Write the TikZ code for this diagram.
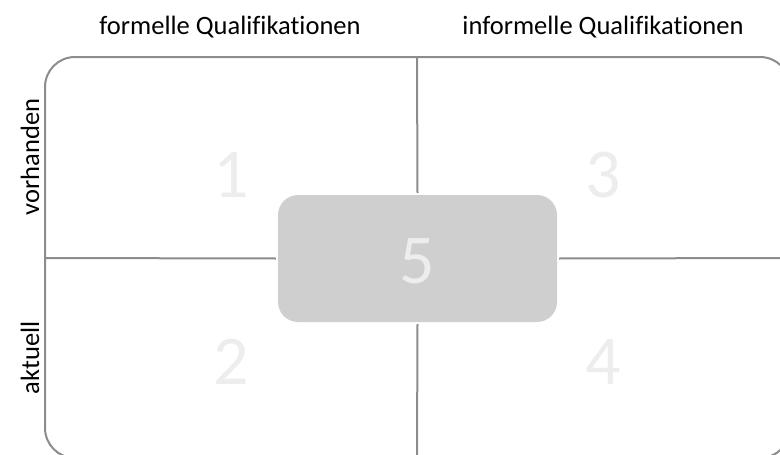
\documentclass[tikz,border=0pt]{standalone}
\usepackage{fontspec}
\setmainfont[RawFeature={-liga;-clig;-dlig}]{Carlito}
\definecolor{frame}{HTML}{8C8C8C}
\definecolor{boxfill}{HTML}{CFCFCF}
\definecolor{numlight}{HTML}{EDEDED}
\begin{document}
\begin{tikzpicture}[x=1pt,y=-1pt,
  gridline/.style={draw=frame,line width=2pt},
  quadnum/.style={text=numlight,font=\fontsize{70}{70}\selectfont,inner sep=0pt},
  header/.style={font=\fontsize{26.5}{26.5}\selectfont,inner sep=0pt},
  sidelabel/.style={font=\fontsize{26.5}{26.5}\selectfont,inner sep=0pt,rotate=90}]
  \useasboundingbox (0,0) rectangle (780,455);
  \clip (0,0) rectangle (780,455);
  % outer frame, running past the right and bottom edges
  \draw[gridline,rounded corners=30pt] (45,57) rectangle (790,458);
  % centre box
  \node[fill=boxfill,rounded corners=20pt,minimum width=279pt,minimum height=127pt,inner sep=0pt] (c) at (417.5,258.5) {};
  \node[quadnum] (n5) at (417.5,261) {5};
  % coordinates where the dividing lines meet the frame
  \coordinate (top) at (417,57);
  \coordinate (bot) at (417,458);
  \coordinate (lft) at (45,258);
  \coordinate (rgt) at (790,258);
  \draw[gridline] (top) -- ([yshift=2pt]c.north);
  \draw[gridline] (bot) -- ([yshift=-2pt]c.south);
  \draw[gridline] (lft) -- ([xshift=-2pt]c.west);
  \draw[gridline] (rgt) -- ([xshift=2pt]c.east);
  % quadrant numbers
  \node[quadnum] (n1) at (231,175) {1};
  \node[quadnum] (n2) at (231,362) {2};
  \node[quadnum] (n3) at (603,175) {3};
  \node[quadnum] (n4) at (603,362) {4};
  % headings
  \node[header] (h1) at (230,27) {formelle Qualifikationen};
  \node[header] (h2) at (603,27) {informelle Qualifikationen};
  \node[sidelabel] (s1) at (30,157) {vorhanden};
  \node[sidelabel] (s2) at (30,358) {aktuell};
\end{tikzpicture}
\end{document}
